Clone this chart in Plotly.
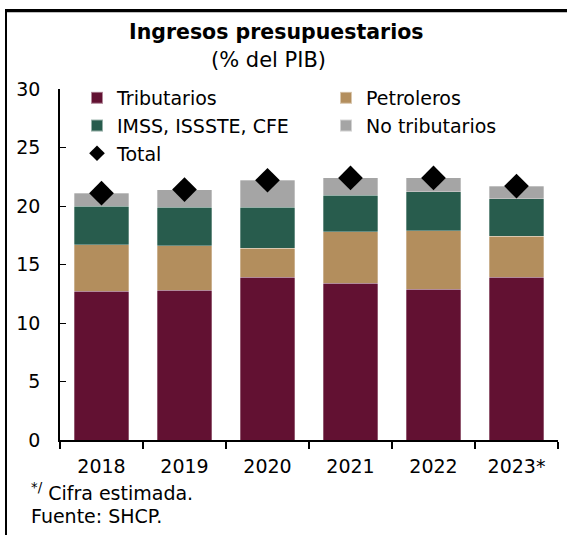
import plotly.graph_objects as go

years = ["2018", "2019", "2020", "2021", "2022", "2023*"]
tributarios = [12.7, 12.8, 13.9, 13.4, 12.9, 13.9]
petroleros = [4.0, 3.8, 2.5, 4.4, 5.0, 3.5]
imss = [3.3, 3.3, 3.5, 3.1, 3.3, 3.2]
no_trib = [1.1, 1.5, 2.3, 1.5, 1.2, 1.1]
total = [21.1, 21.4, 22.2, 22.4, 22.4, 21.7]

W, H = 567, 535
L, R, T, B = 60, 9, 89, 95
PW, PH = W - L - R, H - T - B

def px(x):
    return (x - L) / PW

def py(y):
    return (H - B - y) / PH

FONT = "DejaVu Sans"

fig = go.Figure()
series = [
    ("Tributarios", tributarios, "#621132"),
    ("Petroleros", petroleros, "#b38e5d"),
    ("IMSS, ISSSTE, CFE", imss, "#285c4d"),
    ("No tributarios", no_trib, "#a5a5a5"),
]
for name, vals, col in series:
    fig.add_trace(go.Bar(x=years, y=vals, name=name,
                         marker=dict(color=col, line=dict(color="rgba(255,255,255,0.5)", width=0.6))))
fig.add_trace(go.Scatter(x=years, y=total, name="Total", mode="markers",
                         marker=dict(symbol="diamond", size=19, color="black")))

fig.update_layout(
    width=W, height=H,
    margin=dict(l=L, r=R, t=T, b=B, autoexpand=False),
    barmode="stack", bargap=0.34,
    plot_bgcolor="white", paper_bgcolor="white",
    font=dict(family=FONT, color="black", size=18),
    showlegend=True,
    legend=dict(orientation="h", x=px(77), y=py(79), xanchor="left", yanchor="top",
                entrywidth=204, entrywidthmode="pixels", traceorder="normal",
                font=dict(size=19, family=FONT), itemsizing="constant",
                tracegroupgap=0, bgcolor="rgba(0,0,0,0)"),
    xaxis=dict(showline=True, linecolor="black", linewidth=2, ticks="outside",
               ticklen=7, tickcolor="black", tickwidth=1.5, tickson="boundaries",
               tickfont=dict(size=19), showgrid=False, automargin=False,
               ticklabelstandoff=8),
    yaxis=dict(range=[0, 30], dtick=5, showline=True, linecolor="black", linewidth=1.5,
               ticks="inside", ticklen=6, tickcolor="black", showgrid=False,
               zeroline=False, tickfont=dict(size=19), ticklabelstandoff=14,
               automargin=False),
)

fig.add_annotation(text="<b>Ingresos presupuestarios</b>", xref="paper", yref="paper",
                   x=px(276), y=py(32), xanchor="center", yanchor="middle",
                   showarrow=False, font=dict(size=20.5, family=FONT))
fig.add_annotation(text="(% del PIB)", xref="paper", yref="paper",
                   x=px(268), y=py(60), xanchor="center", yanchor="middle",
                   showarrow=False, font=dict(size=21, family=FONT))
fig.add_annotation(text="<sup>*/</sup> Cifra estimada.", xref="paper", yref="paper",
                   x=px(29), y=py(492), xanchor="left", yanchor="middle", showarrow=False,
                   font=dict(size=19, family=FONT))
fig.add_annotation(text="Fuente: SHCP.", xref="paper", yref="paper",
                   x=px(29), y=py(516), xanchor="left", yanchor="middle", showarrow=False,
                   font=dict(size=19, family=FONT))

# outer frame (left and top edges)
fig.add_shape(type="line", xref="paper", yref="paper",
              x0=px(6), y0=py(11), x1=px(6), y1=py(540),
              line=dict(color="black", width=2))
fig.add_shape(type="line", xref="paper", yref="paper",
              x0=px(5), y0=py(11), x1=px(567), y1=py(11),
              line=dict(color="black", width=2.5))

frame_js = (
    "document.body.style.margin='0';"
    "var d=document.createElement('div');"
    "d.style.cssText='position:absolute;left:5px;top:9px;width:600px;height:600px;"
    "border-top:2px solid black;pointer-events:none;';"
    "document.body.appendChild(d);"
)
fig.write_html("out.html", config={"displayModeBar": False}, post_script=frame_js)
